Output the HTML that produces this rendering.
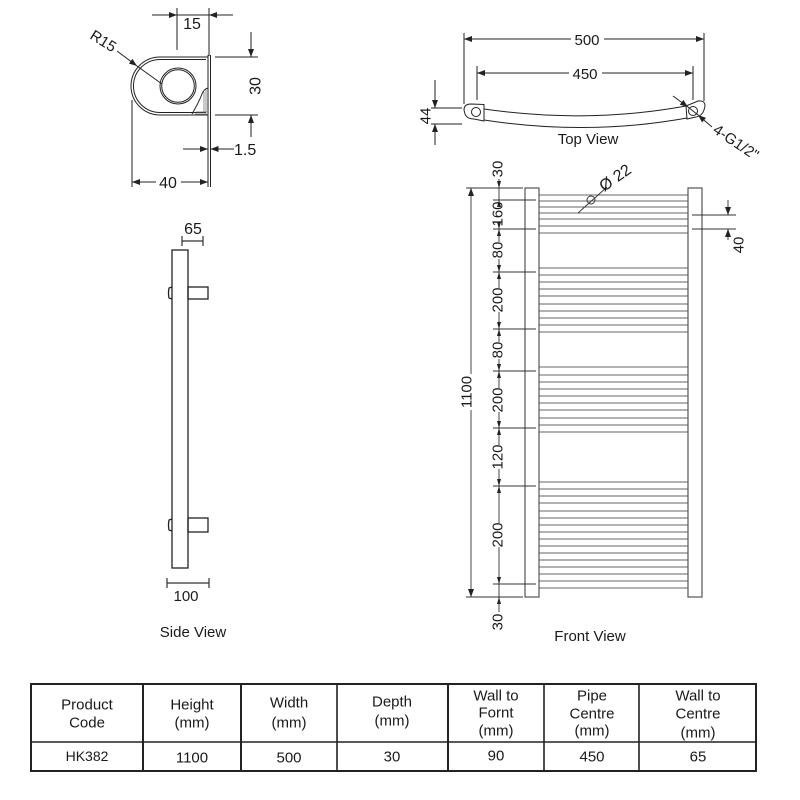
<!DOCTYPE html>
<html><head><meta charset="utf-8"><style>
html,body{margin:0;padding:0;background:#fff;}
svg{display:block;}
text{font-family:"Liberation Sans",Arial,sans-serif;fill:#1a1a1a;}
</style></head><body>
<svg width="800" height="800" viewBox="0 0 800 800" xmlns="http://www.w3.org/2000/svg">
<defs>
<marker id="ar" markerWidth="8" markerHeight="6" refX="8" refY="3" orient="auto" markerUnits="userSpaceOnUse"><path d="M0,0 L8,3 L0,6 z" fill="#222"/></marker>
</defs>

<!-- TOP-LEFT PROFILE DETAIL -->
<g stroke="#222" fill="none" stroke-width="1">
  <path d="M208 57 L160 57 A29 29 0 0 0 160 115 L208 115"/>
  <path d="M206 59.5 L160 59.5 A26.5 26.5 0 0 0 160 112.5 L206 112.5"/>
  <circle cx="178" cy="86" r="18"/>
  <circle cx="178" cy="86" r="16.3"/>
  <path d="M192 114 Q199 102 202 94 Q204 89 208 88"/>
  <path d="M195 114 L207 114 M196 112 L207 112 M204 92 L204 112 M206 90 L206 112" stroke-width="0.7" stroke="#666"/>
  <path d="M208 55 L208 187 M210.5 55 L210.5 187"/>
  <path d="M177 8 L177 50 M209 8 L209 56 M177 15 L209 15"/>
  <line x1="152" y1="15" x2="177" y2="15" marker-end="url(#ar)"/>
  <line x1="233" y1="15" x2="209" y2="15" marker-end="url(#ar)"/>
  <path d="M215 57 L258 57 M215 115 L258 115"/>
  <line x1="251" y1="32" x2="251" y2="57" marker-end="url(#ar)"/>
  <line x1="251" y1="137" x2="251" y2="115" marker-end="url(#ar)"/>
  <line x1="183" y1="149" x2="208" y2="149" marker-end="url(#ar)"/>
  <line x1="234" y1="149" x2="210.5" y2="149" marker-end="url(#ar)"/>
  <path d="M132 100 L132 187"/>
  <line x1="156" y1="182" x2="132" y2="182" marker-end="url(#ar)"/>
  <line x1="181" y1="182" x2="208" y2="182" marker-end="url(#ar)"/>
  <line x1="117" y1="51" x2="137" y2="66" marker-end="url(#ar)"/>
  <path d="M137 66 L162 84"/>
</g>
<text x="192" y="29" font-size="16" text-anchor="middle">15</text>
<text x="256" y="86" font-size="16" text-anchor="middle" dominant-baseline="central" transform="rotate(-90 256 86)">30</text>
<text x="234" y="155" font-size="16">1.5</text>
<text x="168" y="188" font-size="16" text-anchor="middle">40</text>
<text x="89" y="38" font-size="15" transform="rotate(32 89 38)">R15</text>

<!-- TOP VIEW -->
<g stroke="#222" fill="none" stroke-width="1">
  <path d="M464 33 L464 104 M704 33 L704 101 M477 66 L477 100 M693 66 L693 100"/>
  <line x1="571" y1="39" x2="464" y2="39" marker-end="url(#ar)"/>
  <line x1="604" y1="39" x2="704" y2="39" marker-end="url(#ar)"/>
  <line x1="569" y1="73" x2="477" y2="73" marker-end="url(#ar)"/>
  <line x1="602" y1="73" x2="693" y2="73" marker-end="url(#ar)"/>
  <path d="M484 109 Q588 124 686 106"/>
  <path d="M484 120 Q588 136 687 118"/>
  <path d="M484 104.5 L471 104 Q464 104 464 110 L465 114 Q467 119 474 119 L484 121 Z"/>
  <circle cx="476" cy="112" r="4.5"/>
  <path d="M686 106 L698 101 Q705 100 705 106 L704 110 Q702 116 696 117 L687 119 Z"/>
  <circle cx="693" cy="111" r="4.5"/>
  <path d="M431 108 L462 108 M431 124 L462 124"/>
  <line x1="435" y1="80" x2="435" y2="108" marker-end="url(#ar)"/>
  <line x1="435" y1="145" x2="435" y2="124" marker-end="url(#ar)"/>
  <line x1="673" y1="96" x2="688" y2="107" marker-end="url(#ar)"/>
  <line x1="712" y1="127" x2="698" y2="115" marker-end="url(#ar)"/>
  <path d="M688 107 L698 115"/>
</g>
<text x="587" y="45" font-size="15" text-anchor="middle">500</text>
<text x="585" y="79" font-size="15" text-anchor="middle">450</text>
<text x="426" y="116" font-size="15" text-anchor="middle" dominant-baseline="central" transform="rotate(-90 426 116)">44</text>
<text x="588" y="144" font-size="15" text-anchor="middle">Top View</text>
<text x="712" y="132" font-size="15" transform="rotate(34 712 132)">4-G1/2"</text>

<!-- SIDE VIEW -->
<g stroke="#222" fill="none" stroke-width="1.3">
  <rect x="172" y="250" width="16" height="318" fill="#fff"/>
  <rect x="188" y="287" width="20" height="12"/>
  <path d="M172 287 L169 288 Q168 293 169 298 L172 299"/>
  <rect x="188" y="518" width="20" height="14"/>
  <path d="M172 519 L169 520 Q168 525 169 530 L172 531"/>
</g>
<path stroke="#333" stroke-width="1.2" fill="none" d="M182 241 L203 241 M182 236 L182 246 M203 236 L203 246 M167 583 L209 583 M167 578 L167 588 M209 578 L209 588"/>
<text x="193" y="234" font-size="16" text-anchor="middle">65</text>
<text x="186" y="601" font-size="15" text-anchor="middle">100</text>
<text x="193" y="637" font-size="15" text-anchor="middle">Side View</text>

<!-- FRONT VIEW RAILS -->
<path stroke="#666" stroke-width="1" fill="none" d="
M539 195H688M539 201H688M539 207H688M539 213H688M539 219H688M539 226H688M539 233H688
M539 268H688M539 275H688M539 282H688M539 289H688M539 296H688M539 304H688M539 311H688M539 318H688M539 325H688M539 332H688
M539 367H688M539 375H688M539 382H688M539 389H688M539 396H688M539 403H688M539 410H688M539 418H688M539 425H688M539 432H688
M539 482H688M539 489H688M539 496H688M539 503H688M539 511H688M539 518H688M539 525H688M539 532H688
M539 539H688M539 546H688M539 553H688M539 560H688M539 567H688M539 574H688M539 581H688M539 588H688"/>
<g stroke="#555" stroke-width="1.2" fill="#fff">
  <rect x="525" y="188" width="14" height="409"/>
  <rect x="688" y="188" width="14" height="409"/>
</g>
<g stroke="#333" stroke-width="0.9" fill="none">
  <path d="M466 188H523M466 597H523M493 200H536M493 229H536M493 272H536M493 329H536M493 371H536M493 428H536M493 486H536M493 584H536"/>
  <line x1="471" y1="374" x2="471" y2="188" marker-end="url(#ar)"/>
  <line x1="471" y1="410" x2="471" y2="597" marker-end="url(#ar)"/>
  <path d="M499 179V203M499 226V242M499 259V288M499 312V342M499 359V388M499 412V445M499 469V523M499 547V612"/>
  <path d="M692 215H736M692 229H736"/>
  <line x1="728" y1="200" x2="728" y2="215" marker-end="url(#ar)"/>
  <line x1="728" y1="240" x2="728" y2="229" marker-end="url(#ar)"/>
  <circle cx="591" cy="200" r="4"/>
  <path d="M578 213L607 187"/>
</g>
<path fill="#222" d="M497 181L501 181L499 188Z M497 207L501 207L499 200Z M497 222L501 222L499 229Z M497 236L501 236L499 229Z M497 265L501 265L499 272Z M497 279L501 279L499 272Z M497 322L501 322L499 329Z M497 336L501 336L499 329Z M497 364L501 364L499 371Z M497 378L501 378L499 371Z M497 421L501 421L499 428Z M497 435L501 435L499 428Z M497 479L501 479L499 486Z M497 493L501 493L499 486Z M497 577L501 577L499 584Z M497 604L501 604L499 597Z"/>
<g font-size="15" text-anchor="middle" dominant-baseline="central">
  <text x="498" y="169" transform="rotate(-90 498 169)">30</text>
  <text x="498" y="214" transform="rotate(-90 498 214)">160</text>
  <text x="498" y="250" transform="rotate(-90 498 250)">80</text>
  <text x="498" y="300" transform="rotate(-90 498 300)">200</text>
  <text x="498" y="350" transform="rotate(-90 498 350)">80</text>
  <text x="498" y="400" transform="rotate(-90 498 400)">200</text>
  <text x="498" y="457" transform="rotate(-90 498 457)">120</text>
  <text x="498" y="535" transform="rotate(-90 498 535)">200</text>
  <text x="498" y="622" transform="rotate(-90 498 622)">30</text>
  <text x="467" y="392" transform="rotate(-90 467 392)">1100</text>
  <text x="739" y="245" transform="rotate(-90 739 245)">40</text>
</g>
<text x="604" y="192" font-size="16" transform="rotate(-35 604 192)">Ø 22</text>
<text x="590" y="641" font-size="15" text-anchor="middle">Front View</text>

<!-- TABLE -->
<g stroke="#222" fill="none">
  <rect x="31" y="684" width="725" height="87" stroke-width="2"/>
  <path stroke-width="1.6" d="M31 742H756M337 684V771M544 684V771M639 684V771"/>
  <path stroke-width="2" d="M143 684V771M241 684V771M448 684V771"/>
</g>
<g font-size="15" text-anchor="middle" dominant-baseline="central">
  <text x="87" y="705">Product</text><text x="87" y="723">Code</text>
  <text x="192" y="705">Height</text><text x="192" y="723">(mm)</text>
  <text x="289" y="703">Width</text><text x="289" y="723">(mm)</text>
  <text x="392" y="702">Depth</text><text x="392" y="721">(mm)</text>
  <text x="496" y="696">Wall to</text><text x="496" y="713">Fornt</text><text x="496" y="731">(mm)</text>
  <text x="592" y="696">Pipe</text><text x="592" y="714">Centre</text><text x="592" y="731">(mm)</text>
  <text x="698" y="696">Wall to</text><text x="698" y="714">Centre</text><text x="698" y="733">(mm)</text>
  <text x="87" y="756" font-size="14">HK382</text>
  <text x="192" y="758">1100</text>
  <text x="289" y="758">500</text>
  <text x="392" y="757">30</text>
  <text x="496" y="756">90</text>
  <text x="592" y="757">450</text>
  <text x="698" y="757">65</text>
</g>
</svg>
</body></html>
